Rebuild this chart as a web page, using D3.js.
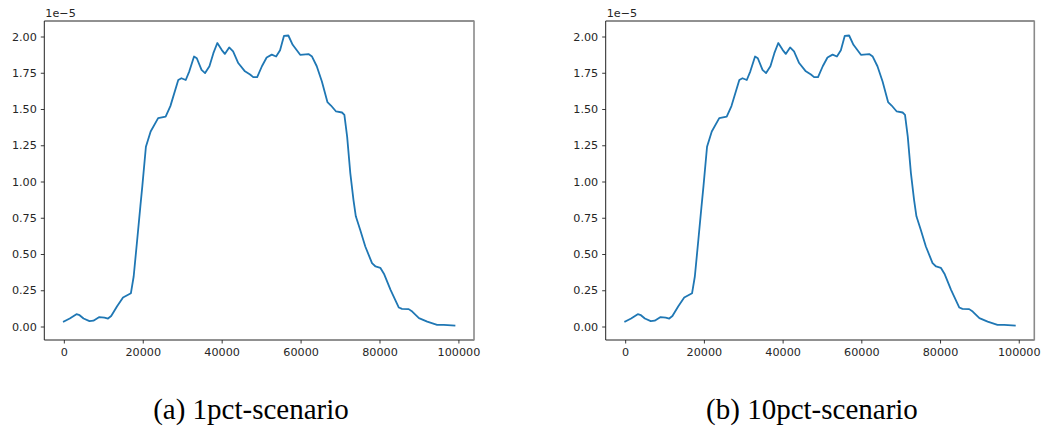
<!DOCTYPE html>
<html>
<head>
<meta charset="utf-8">
<script src="https://cdn.jsdelivr.net/npm/d3@7/dist/d3.min.js"></script>
<style>
  html, body { margin: 0; padding: 0; background: #fff; }
  svg { display: block; }
</style>
</head>
<body>
<svg id="chart" width="1042" height="438"></svg>
<script>
// x positions (steps)
const steps = [0, 1500, 3200, 4000, 5000, 6500, 7500, 9000, 10300, 11200, 12000, 13500, 15000, 17000, 17700,
  18600, 19400, 19900, 20800, 22000, 23900, 25800, 27000, 29000, 29800, 30900, 31800, 33000, 33700, 34900,
  35800, 36900, 37900, 38900, 40000, 40800, 41900, 42900, 44200, 45900, 47200, 48000, 49000, 50200, 51400,
  52700, 53800, 54800, 55800, 56900, 58000, 59900, 62000, 62900, 64100, 65400, 66800, 67700, 69000, 70500,
  71100, 71800, 72600, 73400, 74000, 75100, 76400, 78100, 79000, 80200, 81200, 82800, 84900, 85700, 87400,
  88300, 90000, 92100, 94600, 96300, 99000];
// values in units of 1e-5
const series1pct = [0.035, 0.055, 0.085, 0.078, 0.055, 0.037, 0.040, 0.065, 0.062, 0.055, 0.072, 0.140, 0.200, 0.230, 0.345,
  0.600, 0.830, 0.970, 1.240, 1.345, 1.437, 1.448, 1.520, 1.700, 1.712, 1.700, 1.760, 1.862, 1.850, 1.770,
  1.748, 1.795, 1.885, 1.955, 1.908, 1.880, 1.925, 1.897, 1.817, 1.760, 1.738, 1.720, 1.720, 1.795, 1.855,
  1.875, 1.862, 1.905, 2.005, 2.007, 1.943, 1.874, 1.879, 1.862, 1.795, 1.690, 1.548, 1.524, 1.483, 1.476,
  1.460, 1.310, 1.058, 0.874, 0.760, 0.667, 0.552, 0.437, 0.414, 0.405, 0.360, 0.253, 0.131, 0.122, 0.120,
  0.103, 0.058, 0.034, 0.012, 0.012, 0.007];
const series10pct = series1pct.slice();
const xTicks = [0, 20000, 40000, 60000, 80000, 100000];
const yTicks = [0, 0.25, 0.5, 0.75, 1.0, 1.25, 1.5, 1.75, 2.0];
const captions = ["(a) 1pct-scenario", "(b) 10pct-scenario"];
const offsetLabel = "1e\u22125";

const svg = d3.select("#chart");
const panels = [
  { left: 44.3, right: 474, top: 21, bottom: 340, data: series1pct, caption: captions[0], cx: 251 },
  { left: 605.7, right: 1034.3, top: 21, bottom: 340, data: series10pct, caption: captions[1], cx: 812 }
];

panels.forEach(p => {
  const xMin = d3.min(steps), xMax = d3.max(steps);
  const xPad = (xMax - xMin) * 0.05;
  const yMin = d3.min(p.data), yMax = d3.max(p.data);
  const yPad = (yMax - yMin) * 0.05;
  const x = d3.scaleLinear().domain([xMin - xPad, xMax + xPad]).range([p.left, p.right]);
  const y = d3.scaleLinear().domain([yMin - yPad, yMax + yPad]).range([p.bottom, p.top]);

  const g = svg.append("g");

  // line
  const line = d3.line().x((d, i) => x(steps[i])).y(d => y(d));
  g.append("path").datum(p.data)
    .attr("d", line)
    .attr("fill", "none")
    .attr("stroke", "#1f77b4")
    .attr("stroke-width", 1.8)
    .attr("stroke-linejoin", "round")
    .attr("stroke-linecap", "square");

  // axes
  const xAxis = d3.axisBottom(x).tickValues(xTicks).tickSize(3.5).tickPadding(4).tickFormat(d3.format("d"));
  const yAxis = d3.axisLeft(y).tickValues(yTicks).tickSize(3.5).tickPadding(4).tickFormat(d3.format(".2f"));
  const gx = g.append("g").attr("transform", `translate(0,${p.bottom})`).call(xAxis);
  const gy = g.append("g").attr("transform", `translate(${p.left},0)`).call(yAxis);
  [gx, gy].forEach(a => {
    a.select(".domain").remove();
    a.selectAll("line").attr("stroke", "#222").attr("stroke-width", 0.9);
    a.selectAll("text").attr("fill", "#262626")
      .style("font-family", "'DejaVu Sans', sans-serif").style("font-size", "11.2px");
  });
  gx.selectAll("text").attr("dy", "0.75em").attr("y", 7.5);

  // spines
  g.append("line").attr("x1", p.left).attr("x2", p.right).attr("y1", p.top).attr("y2", p.top)
    .attr("stroke", "#222").attr("stroke-width", 1);
  g.append("line").attr("x1", p.left).attr("x2", p.right).attr("y1", p.bottom).attr("y2", p.bottom)
    .attr("stroke", "#222").attr("stroke-width", 1);
  g.append("line").attr("x1", p.left).attr("x2", p.left).attr("y1", p.top).attr("y2", p.bottom)
    .attr("stroke", "#222").attr("stroke-width", 1);
  g.append("line").attr("x1", p.right).attr("x2", p.right).attr("y1", p.top - 0.5).attr("y2", p.bottom + 0.5)
    .attr("stroke", "#8a8a8a").attr("stroke-width", 1.6);

  // offset label
  g.append("text").attr("x", p.left + 1).attr("y", p.top - 4.5)
    .attr("fill", "#262626")
    .style("font-family", "'DejaVu Sans', sans-serif").style("font-size", "11.2px")
    .text(offsetLabel);

  // caption
  g.append("text").attr("x", p.cx).attr("y", 419).attr("text-anchor", "middle")
    .attr("fill", "#000")
    .style("font-family", "'Liberation Serif', 'Times New Roman', serif").style("font-size", "29px")
    .text(p.caption);
});
</script>
</body>
</html>
